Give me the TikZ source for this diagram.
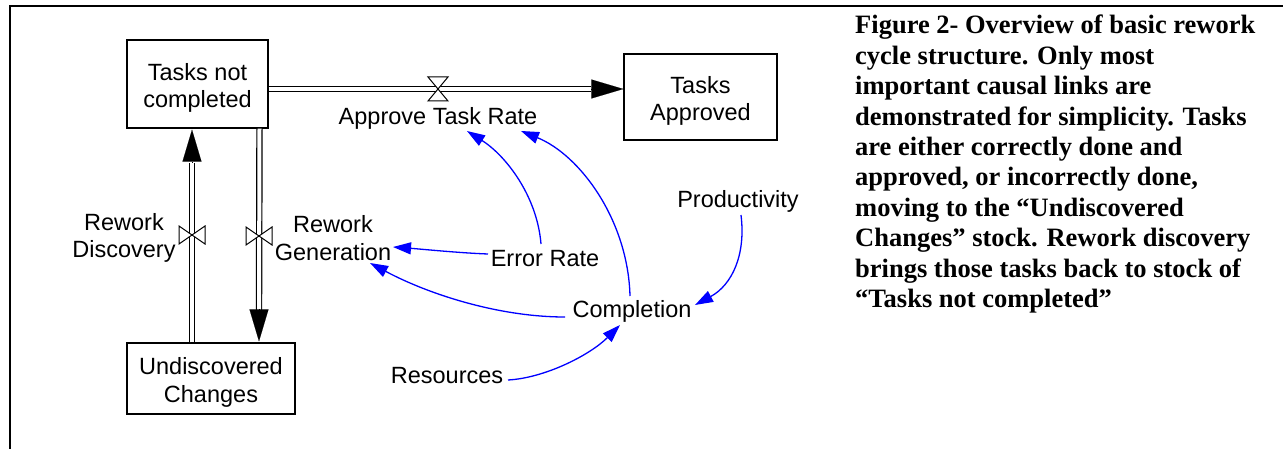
\documentclass[tikz,border=0pt]{standalone}
\usepackage{fontspec}
\setmainfont{Liberation Serif}
\newfontfamily\arialfont{Liberation Sans}
\usetikzlibrary{arrows.meta,calc}
\begin{document}
\begin{tikzpicture}[x=1pt,y=-1pt,
  lbl/.style={font=\arialfont\fontsize{23.5}{27.5}\selectfont, align=center, inner sep=0pt},
  stock/.style={lbl, draw, line width=1.3pt, fill=white},
  pipe/.style={draw, line width=1.2pt, double=white, double distance=4pt},
  flowhead/.style={line width=0.1pt, -{Triangle[length=32pt,width=19pt]}},
  valve/.style={draw, fill=white, line width=1pt, line join=miter},
  link/.style={draw=blue, line width=1.3pt, -{Triangle[length=18pt,width=12pt]}},
  caption/.style={font=\bfseries\fontsize{26.5}{30.4}\selectfont, align=left, inner sep=0pt}
]
\useasboundingbox (0,0) rectangle (1283,449);
\draw[line width=2pt] (9.5,449) -- (9.5,6.5) -- (1283,6.5);

% stocks
\node[stock, minimum width=141pt, minimum height=88pt] (tnc) at (197.5,84) {\rule{0pt}{25pt}Tasks not\\completed};
\node[stock, minimum width=168pt, minimum height=71pt] (ud) at (211,378.5) {\rule{0pt}{25pt}Undiscovered\\Changes};
\node[stock, minimum width=153pt, minimum height=86pt] (ta) at (700.5,97) {\rule{0pt}{25pt}Tasks\\Approved};

% auxiliaries
\node[lbl] (atr) at (438,118) {Approve Task Rate};
\node[lbl] (rd) at (124,238) {Rework\\Discovery};
\node[lbl] (rg) at (333,238) {Rework\\Generation};
\node[lbl] (er) at (545,258.5) {Error Rate};
\node[lbl] (comp) at (632,311.5) {Completion};
\node[lbl] (prod) at (738,201.5) {Productivity};
\node[lbl] (res) at (447,376) {Resources};

% pipes
\draw[pipe] ($(tnc.east)+(0,5)$) -- ($(ta.west)+(-32,-8)$);
\draw[flowhead] ($(ta.west)+(-32,-8)$) -- ($(ta.west)+(0,-8)$);
\draw[pipe] ($(ud.north)+(-19,0)$) -- ($(tnc.south)+(-5.5,34)$);
\draw[flowhead] ($(tnc.south)+(-5.5,34)$) -- ($(tnc.south)+(-5.5,1)$);
\draw[pipe] ($(tnc.south)+(62,0)$) -- ($(ud.north)+(48,-31)$);
\draw[flowhead] ($(ud.north)+(48,-31)$) -- ($(ud.north)+(48,-1)$);

% valves
\coordinate (v1) at (438,89);
\draw[valve] (v1) -- ++(-10,-12) -- ++(20,0) -- cycle;
\draw[valve] (v1) -- ++(-10,12) -- ++(20,0) -- cycle;
\coordinate (v2) at (192,235);
\draw[valve] (v2) -- ++(-13,-9) -- ++(0,18) -- cycle;
\draw[valve] (v2) -- ++(13,-9) -- ++(0,18) -- cycle;
\coordinate (v3) at (259,236);
\draw[valve] (v3) -- ++(-13,-9) -- ++(0,18) -- cycle;
\draw[valve] (v3) -- ++(13,-9) -- ++(0,18) -- cycle;

% causal links
\draw[link] ($(er)+(-4,-14.5)$) .. controls (537,195) and (505,155) .. ($(atr)+(29,13)$);
\draw[link] ($(comp)+(-2,-15.5)$) .. controls (628,220) and (580,155) .. ($(atr)+(83,13)$);
\draw[link] ($(er)+(-57,-4.5)$) .. controls (460,253) and (420,249) .. ($(rg)+(60,9)$);
\draw[link] ($(comp)+(-67,5.5)$) .. controls (500,317) and (430,295) .. ($(rg)+(37,25)$);
\draw[link] ($(prod)+(3,13.5)$) .. controls (746,255) and (732,285) .. ($(comp)+(63,-6.5)$);
\draw[link] ($(res)+(61,4)$) .. controls (545,378) and (590,355) .. ($(comp)+(-12,13.5)$);

% caption
\node[caption, anchor=north west] (cap) at (855,15) {Figure 2- Overview of basic rework\\
cycle structure. Only most\\
important causal links are\\
demonstrated for simplicity. Tasks\\
are either correctly done and\\
approved, or incorrectly done,\\
moving to the “Undiscovered\\
Changes” stock. Rework discovery\\
brings those tasks back to stock of\\
“Tasks not completed”};
\end{tikzpicture}
\end{document}
